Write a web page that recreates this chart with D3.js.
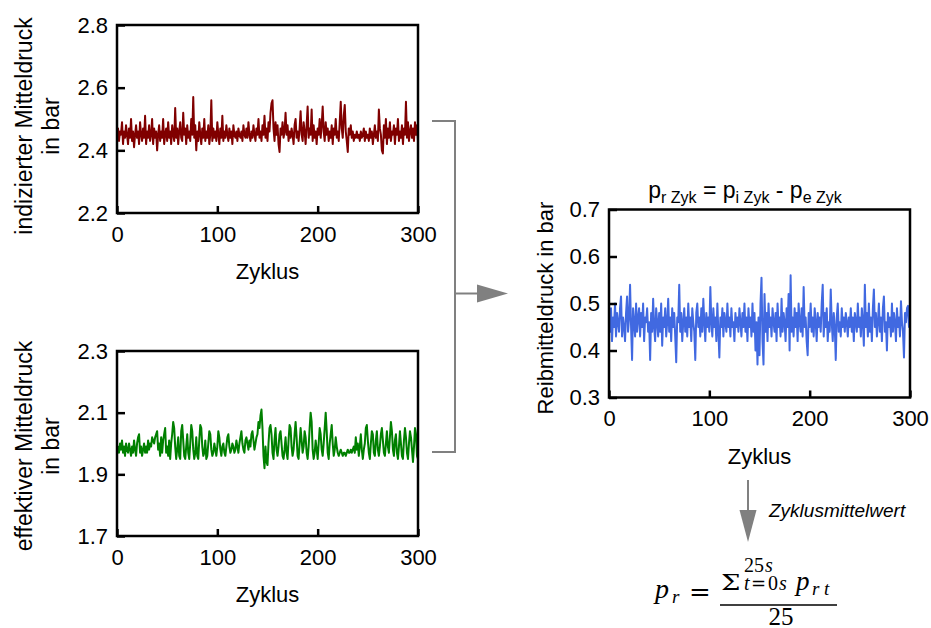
<!DOCTYPE html>
<html><head><meta charset="utf-8">
<script src="https://cdn.jsdelivr.net/npm/d3@7/dist/d3.min.js"></script>
<style>
body{margin:0;background:#fff;}
svg{display:block;font-family:"Liberation Sans",Arial,sans-serif;}
</style></head><body>
<svg id="c" width="931" height="628"></svg>
<script>
const cycleTicks = [0, 100, 200, 300];
const piTicks = [2.2, 2.4, 2.6, 2.8];
const peTicks = [1.7, 1.9, 2.1, 2.3];
const prTicks = [0.3, 0.4, 0.5, 0.6, 0.7];

// indizierter Mitteldruck (bar), cycles 0..300
const piValues = [
2.44,2.47,2.43,2.46,2.45,2.49,2.42,2.46,2.44,2.48,
2.45,2.42,2.47,2.44,2.50,2.43,2.46,2.41,2.45,2.48,
2.44,2.46,2.42,2.49,2.45,2.43,2.47,2.44,2.51,2.42,
2.46,2.44,2.48,2.43,2.45,2.50,2.42,2.47,2.44,2.46,
2.40,2.45,2.48,2.43,2.46,2.44,2.50,2.42,2.45,2.47,
2.43,2.49,2.44,2.46,2.42,2.48,2.45,2.43,2.535,2.44,
2.47,2.42,2.46,2.49,2.44,2.43,2.52,2.45,2.47,2.42,
2.48,2.44,2.46,2.43,2.50,2.45,2.57,2.44,2.48,2.40,
2.46,2.43,2.49,2.45,2.42,2.47,2.44,2.50,2.43,2.46,
2.44,2.48,2.42,2.45,2.56,2.43,2.47,2.44,2.46,2.43,
2.49,2.45,2.42,2.47,2.44,2.51,2.43,2.46,2.44,2.48,
2.45,2.43,2.47,2.44,2.46,2.42,2.48,2.45,2.44,2.46,
2.43,2.47,2.45,2.44,2.46,2.43,2.48,2.45,2.44,2.47,
2.44,2.49,2.45,2.43,2.46,2.44,2.48,2.45,2.43,2.47,
2.45,2.50,2.44,2.46,2.43,2.48,2.45,2.51,2.44,2.47,
2.43,2.49,2.46,2.52,2.55,2.56,2.47,2.43,2.49,2.45,
2.48,2.42,2.395,2.47,2.45,2.49,2.44,2.46,2.52,2.45,
2.48,2.43,2.46,2.44,2.47,2.45,2.42,2.48,2.50,2.44,
2.46,2.43,2.47,2.525,2.45,2.43,2.49,2.46,2.42,2.48,
2.54,2.44,2.47,2.45,2.53,2.43,2.48,2.44,2.46,2.42,
2.47,2.45,2.50,2.44,2.48,2.54,2.46,2.43,2.49,2.45,
2.47,2.43,2.46,2.44,2.48,2.42,2.47,2.45,2.50,2.44,
2.46,2.43,2.49,2.555,2.47,2.44,2.51,2.545,2.46,2.43,
2.395,2.47,2.45,2.48,2.44,2.46,2.43,2.45,2.44,2.46,
2.44,2.45,2.43,2.46,2.44,2.45,2.47,2.43,2.46,2.44,
2.45,2.43,2.47,2.44,2.46,2.42,2.45,2.48,2.44,2.46,
2.43,2.53,2.47,2.45,2.40,2.39,2.48,2.44,2.50,2.42,
2.47,2.44,2.49,2.43,2.46,2.45,2.48,2.42,2.47,2.45,
2.50,2.43,2.46,2.44,2.48,2.42,2.47,2.45,2.555,2.44,
2.49,2.43,2.46,2.48,2.44,2.47,2.43,2.49,2.45,2.48,
2.43];

// effektiver Mitteldruck (bar)
const peValues = [
1.98,1.99,1.97,2.00,1.98,2.01,1.97,1.99,1.96,2.00,
1.98,1.97,2.00,1.98,1.96,1.99,1.97,2.01,1.98,1.96,
2.00,2.02,2.03,1.97,1.99,1.96,1.98,2.00,1.97,1.99,
1.97,2.01,1.98,2.00,1.99,2.02,2.01,2.00,2.02,2.03,
2.04,1.98,2.00,1.96,2.02,1.97,2.01,2.03,2.05,1.97,
1.99,1.96,2.01,1.95,2.00,2.03,2.07,2.05,1.99,1.95,
1.98,2.02,1.96,1.95,2.04,2.06,2.01,1.96,1.95,1.99,
2.03,1.97,1.95,2.00,2.06,2.04,1.98,1.95,1.97,2.02,
1.96,1.95,2.01,2.06,2.05,1.99,1.96,1.97,2.01,1.95,
1.96,2.00,2.04,2.03,1.98,1.96,1.97,2.00,1.98,1.96,
1.99,2.04,2.02,1.98,1.96,1.99,2.00,1.97,1.96,1.99,
2.02,2.03,1.99,1.97,1.98,2.00,1.99,1.97,1.98,2.01,
1.99,1.97,2.00,2.02,2.04,2.00,1.98,1.97,2.01,2.02,
2.00,1.98,2.01,1.99,2.03,2.04,2.01,1.98,2.00,2.02,
2.03,2.07,2.05,2.09,2.11,2.05,1.96,1.92,1.99,1.94,
1.93,2.00,2.05,2.06,2.03,1.97,1.95,2.01,2.05,1.98,
1.96,1.99,2.03,2.04,2.00,1.96,1.95,1.98,2.02,1.97,
1.95,2.01,2.06,2.05,1.99,1.96,1.98,2.03,2.07,2.02,
1.96,1.95,2.00,2.05,2.01,1.97,1.99,2.04,2.02,1.97,
1.95,1.99,2.05,2.10,2.07,1.98,1.95,1.97,2.01,1.98,
1.95,2.00,2.05,2.03,1.98,1.96,2.00,2.05,2.10,2.04,
1.97,1.95,2.00,2.03,2.06,2.00,1.96,1.98,2.02,1.99,
1.97,1.96,1.97,1.98,1.97,1.96,1.97,1.97,1.96,1.97,
1.98,1.97,1.97,1.98,1.97,1.98,1.99,1.97,2.02,1.98,
2.00,1.96,1.99,2.03,1.98,1.95,1.98,2.00,2.05,2.06,
2.01,1.97,1.95,2.00,2.04,2.03,1.97,1.96,2.01,2.04,
1.98,1.96,1.99,2.03,2.05,2.01,1.97,1.96,2.00,2.04,
1.99,1.97,2.02,2.07,2.04,1.98,1.96,2.01,2.03,1.97,
1.95,1.99,2.04,2.00,1.96,1.95,2.01,2.05,2.02,1.97,
1.95,2.00,2.04,2.02,1.98,1.94,1.99,2.05,2.03,1.96,
1.95];

// Reibmitteldruck (bar)
const prValues = [
0.46,0.44,0.49,0.42,0.47,0.45,0.50,0.43,0.48,0.46,
0.44,0.49,0.515,0.43,0.47,0.45,0.42,0.48,0.515,0.44,
0.47,0.54,0.45,0.38,0.49,0.46,0.43,0.50,0.44,0.47,
0.49,0.43,0.48,0.45,0.50,0.42,0.47,0.46,0.49,0.44,
0.46,0.38,0.48,0.44,0.51,0.45,0.42,0.49,0.46,0.43,
0.48,0.44,0.50,0.41,0.47,0.45,0.49,0.43,0.46,0.51,
0.44,0.47,0.42,0.49,0.45,0.48,0.43,0.375,0.47,0.46,
0.54,0.44,0.48,0.42,0.46,0.49,0.44,0.47,0.43,0.50,
0.45,0.47,0.42,0.49,0.46,0.44,0.38,0.48,0.50,0.45,
0.47,0.43,0.49,0.44,0.51,0.46,0.42,0.48,0.45,0.47,
0.44,0.535,0.46,0.43,0.49,0.45,0.47,0.42,0.50,0.44,
0.385,0.47,0.45,0.49,0.43,0.48,0.46,0.44,0.50,0.45,
0.47,0.43,0.49,0.45,0.46,0.42,0.48,0.45,0.47,0.44,
0.49,0.46,0.43,0.48,0.45,0.50,0.44,0.47,0.42,0.49,
0.45,0.47,0.43,0.50,0.44,0.48,0.40,0.46,0.37,0.47,
0.39,0.50,0.555,0.42,0.37,0.52,0.44,0.48,0.42,0.50,
0.45,0.47,0.43,0.49,0.46,0.44,0.48,0.42,0.50,0.45,
0.47,0.43,0.51,0.44,0.48,0.46,0.42,0.49,0.45,0.52,
0.40,0.56,0.44,0.47,0.43,0.49,0.45,0.48,0.42,0.50,
0.46,0.44,0.49,0.43,0.535,0.45,0.47,0.42,0.39,0.48,
0.45,0.50,0.44,0.47,0.43,0.49,0.46,0.42,0.48,0.45,
0.47,0.44,0.50,0.54,0.43,0.48,0.45,0.49,0.42,0.46,
0.44,0.53,0.46,0.42,0.48,0.45,0.38,0.47,0.50,0.44,
0.46,0.43,0.49,0.45,0.47,0.44,0.48,0.46,0.43,0.47,
0.45,0.49,0.44,0.47,0.42,0.48,0.46,0.44,0.50,0.45,
0.47,0.43,0.49,0.46,0.41,0.54,0.45,0.48,0.43,0.50,
0.44,0.47,0.42,0.49,0.53,0.45,0.48,0.43,0.46,0.50,
0.44,0.47,0.42,0.49,0.515,0.44,0.46,0.40,0.48,0.45,
0.47,0.43,0.50,0.44,0.48,0.46,0.42,0.49,0.45,0.47,
0.43,0.505,0.46,0.44,0.385,0.48,0.46,0.49,0.495,0.45,
0.47];

const svg = d3.select("#c");
const FS = 22;

function panel(cfg){
  const x = d3.scaleLinear().domain([0,300]).range([cfg.x0, cfg.x1]);
  const y = d3.scaleLinear().domain(cfg.ydom).range([cfg.y1, cfg.y0]);
  const g = svg.append("g");
  const cid = "clip"+cfg.id;
  svg.append("clipPath").attr("id",cid).append("rect")
    .attr("x",cfg.x0).attr("y",cfg.y0).attr("width",cfg.x1-cfg.x0).attr("height",cfg.y1-cfg.y0);
  const line = d3.line().x((d,i)=>x(i)).y(d=>y(d));
  g.append("path").datum(cfg.values).attr("clip-path",`url(#${cid})`)
    .attr("d",line).attr("fill","none").attr("stroke",cfg.color)
    .attr("stroke-width",2).attr("stroke-linejoin","round");
  const ax = g.append("g").attr("transform",`translate(0,${cfg.y1})`)
    .call(d3.axisBottom(x).tickValues(cycleTicks).tickSize(-7).tickPadding(13).tickFormat(d3.format("d")));
  const ay = g.append("g").attr("transform",`translate(${cfg.x0},0)`)
    .call(d3.axisLeft(y).tickValues(cfg.yticks).tickSize(-8).tickPadding(9).tickFormat(d3.format(".1f")));
  [ax,ay].forEach(a=>{
    a.select(".domain").remove();
    a.selectAll(".tick line").attr("stroke","#000").attr("stroke-width",2.5);
    a.selectAll("text").attr("font-size",FS).attr("fill","#000").attr("font-family","Liberation Sans, Arial, sans-serif");
  });
  g.append("rect").attr("x",cfg.x0).attr("y",cfg.y0).attr("width",cfg.x1-cfg.x0).attr("height",cfg.y1-cfg.y0)
    .attr("fill","none").attr("stroke","#000").attr("stroke-width",2.5);
  g.append("text").attr("x",(cfg.x0+cfg.x1)/2).attr("y",cfg.y1+66)
    .attr("text-anchor","middle").attr("font-size",FS).text("Zyklus");
  return {x,y,g};
}

panel({id:1,x0:117,x1:418,y0:25,y1:213,ydom:[2.2,2.8],yticks:piTicks,values:piValues,color:"#800000"});
panel({id:2,x0:117,x1:418,y0:351,y1:536,ydom:[1.7,2.3],yticks:peTicks,values:peValues,color:"#008000"});
panel({id:3,x0:609,x1:910,y0:209.5,y1:397.5,ydom:[0.3,0.7],yticks:prTicks,values:prValues,color:"#4169E1"});

function vlabel(cx, cy, lines, fs){
  lines.forEach((t,i)=>{
    svg.append("text").attr("transform",`translate(${cx[i]},${cy}) rotate(-90)`)
      .attr("text-anchor","middle").attr("font-size",fs).text(t);
  });
}
vlabel([32,59],126,["indizierter Mitteldruck","in bar"],23);
vlabel([32,59],446,["effektiver Mitteldruck","in bar"],23);
vlabel([553],308,["Reibmitteldruck in bar"],22);

// title of right panel
const tt = svg.append("text").attr("x",745).attr("y",198).attr("text-anchor","middle");
[["p",0,0],["r Zyk",1,5],[" = p",0,-5],["i Zyk",1,5],[" - p",0,-5],["e Zyk",1,5]].forEach(([t,s,dy])=>{
  tt.append("tspan").attr("font-size",s?16:23).attr("dy",dy).text(t);
});

// bracket & arrows
const grey="#808080";
svg.append("path").attr("d","M432,121H455V452H432").attr("fill","none").attr("stroke",grey).attr("stroke-width",2);
svg.append("path").attr("d","M455,293.5H478").attr("stroke",grey).attr("stroke-width",2);
svg.append("path").attr("d","M477,284.5L508,293.5L477,302.5Z").attr("fill",grey);
svg.append("path").attr("d","M748,480V511").attr("stroke",grey).attr("stroke-width",2);
svg.append("path").attr("d","M739.5,510L756.5,510L748,542Z").attr("fill",grey);
svg.append("text").attr("x",769).attr("y",517).attr("font-size",19).attr("font-style","italic").text("Zyklusmittelwert");

// formula
const ff = "Liberation Serif, 'DejaVu Serif', serif";
function ft(x,y,fs,s,it,fam,sx){
  const t = svg.append("text").attr("font-size",fs).attr("font-family",fam||ff)
    .attr("font-style",it?"italic":"normal").text(s);
  if(sx) t.attr("transform",`translate(${x},${y}) scale(${sx},1)`);
  else t.attr("x",x).attr("y",y);
  return t;
}
ft(655,598,28,"p",1);
ft(672,603,19,"r",1);
ft(689,601,26,"=",0,"DejaVu Serif");
svg.append("line").attr("x1",720).attr("x2",837).attr("y1",605).attr("y2",605).attr("stroke","#000").attr("stroke-width",1.3);
ft(721,590,23,"Σ",0,"DejaVu Serif",1.2);
ft(744,572,20,"25",0);
ft(765,572,20,"s",1);
ft(744,590,20,"t",1);
ft(751,590,18,"=",0,"DejaVu Serif");
ft(768,590,20,"0",0);
ft(779,590,20,"s",1);
ft(796,590,27,"p",1);
ft(812,595,19,"r",1);
ft(824,595,19,"t",1);
svg.append("text").attr("x",781).attr("y",625).attr("text-anchor","middle").attr("font-size",25).attr("font-family",ff).text("25");
</script>
</body></html>
